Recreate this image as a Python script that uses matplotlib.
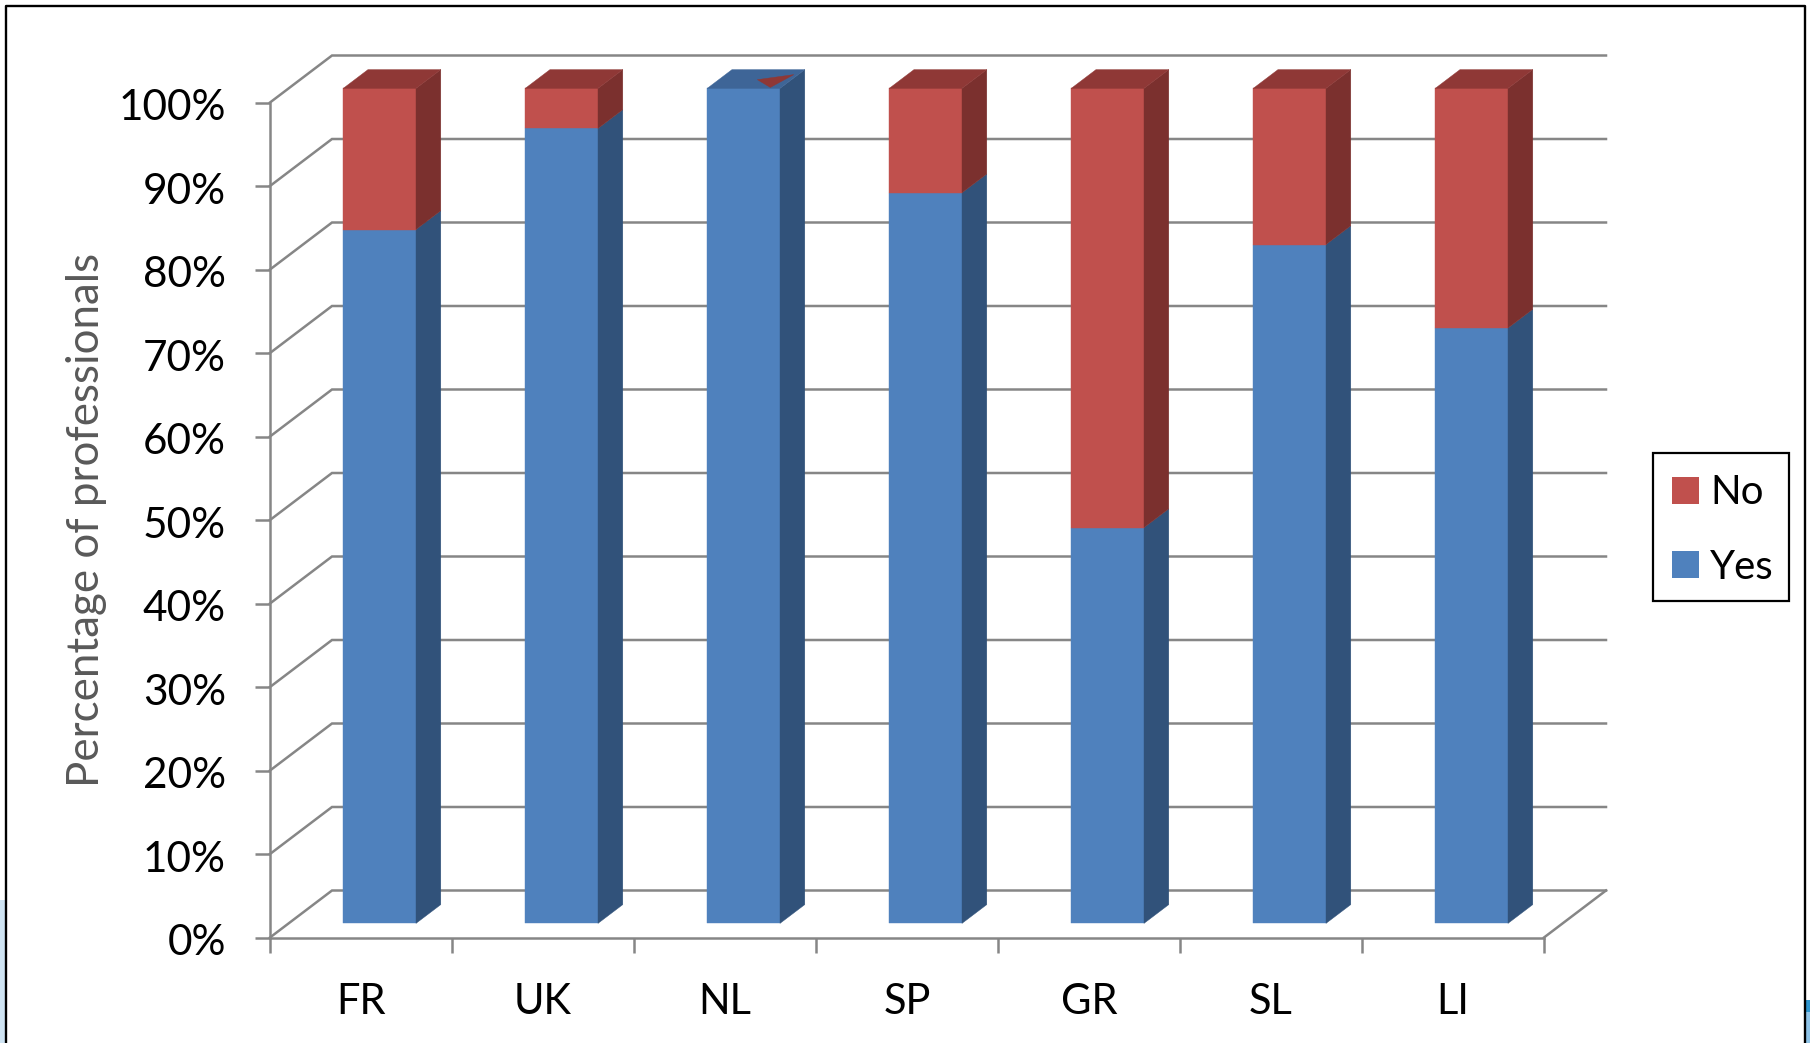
import matplotlib
matplotlib.use("Agg")
import matplotlib.pyplot as plt
from matplotlib.patches import Polygon, Patch, Rectangle
from matplotlib.transforms import ScaledTranslation

categories = ["FR", "UK", "NL", "SP", "GR", "SL", "LI"]
yes_values = [83.1, 95.2, 100.0, 87.5, 47.4, 81.3, 71.3]
no_values = [16.9, 4.8, 0.0, 12.5, 52.6, 18.7, 28.7]
y_ticks = list(range(0, 101, 10))
y_tick_labels = [f"{v}%" for v in y_ticks]
# small red sliver visible on NL's top face (fractions of the face: along width, along depth)
sliver_index = 2
sliver_uv = [(0.53, 0.465), (0.94, 0.733), (0.85, 0.05)]

W, H = 1810, 1043
BLUE = ("#4F81BD", "#31527A", "#3E6597")
RED = ("#C0504D", "#7B302E", "#8F3836")
GRID = "#868686"
plt.rcParams["font.family"] = ["Lato", "DejaVu Sans"]

fig = plt.figure(figsize=(W / 100, H / 100), dpi=100, facecolor="white")
ax = fig.add_axes([270 / W, 1 - 937.5 / H, (1544 - 270) / W, (937.5 - 102.5) / H])
ax.set_xlim(0, 7)
ax.set_ylim(0, 100)
ax.patch.set_alpha(0)

# oblique depth in data units
DX = 62 / 182
DY = 47 / 8.35
BAR_L, BAR_W = 0.3, 0.4
D0, D1 = 0.3, 0.7


def P(x, y, d):
    return (x + d * DX, y + d * DY)


lw = 1.8
for v in y_ticks:
    ax.plot(*zip(P(0, v, 0), P(0, v, 1), P(7, v, 1)), color=GRID, lw=lw, clip_on=False, zorder=1,
            solid_joinstyle="miter")
ax.plot(*zip(P(7, 0, 0), P(7, 0, 1)), color=GRID, lw=lw, clip_on=False, zorder=1)


def box(ax, x, y0, y1, cols, top, z):
    xl, xr = x + BAR_L, x + BAR_L + BAR_W
    ax.add_patch(Polygon([P(xl, y0, D0), P(xr, y0, D0), P(xr, y1, D0), P(xl, y1, D0)],
                         fc=cols[0], ec=cols[0], lw=0.3, clip_on=False, zorder=z))
    ax.add_patch(Polygon([P(xr, y0, D0), P(xr, y0, D1), P(xr, y1, D1), P(xr, y1, D0)],
                         fc=cols[1], ec=cols[1], lw=0.3, clip_on=False, zorder=z))
    if top:
        ax.add_patch(Polygon([P(xl, y1, D0), P(xr, y1, D0), P(xr, y1, D1), P(xl, y1, D1)],
                             fc=cols[2], ec=cols[2], lw=0.3, clip_on=False, zorder=z))


for i, (yv, nv) in enumerate(zip(yes_values, no_values)):
    box(ax, i, 0, yv, BLUE, nv == 0, 3)
    if nv > 0:
        box(ax, i, yv, yv + nv, RED, True, 4)

# NL sliver
xl = sliver_index + BAR_L
ax.add_patch(Polygon([P(xl + u * BAR_W, 100, D0 + w * (D1 - D0)) for u, w in sliver_uv],
                     fc=RED[2], ec=RED[2], lw=0.3, clip_on=False, zorder=5))

# axes
for s in ("top", "right"):
    ax.spines[s].set_visible(False)
for s in ("left", "bottom"):
    ax.spines[s].set_color(GRID)
    ax.spines[s].set_linewidth(lw)
    ax.spines[s].set_zorder(2)
ax.set_yticks(y_ticks, y_tick_labels)
ax.set_xticks(range(8))
ax.set_xticklabels([])
ax.set_xticks([i + 0.5 for i in range(7)], categories, minor=True)
ax.tick_params(axis="y", length=10.8, width=lw, color=GRID, pad=21, labelsize=30.5, labelcolor="black")
ax.tick_params(axis="x", which="major", length=10.8, width=lw, color=GRID)
ax.tick_params(axis="x", which="minor", length=0, pad=33, labelsize=30, labelcolor="black")
shift = ScaledTranslation(0, -2.2 / 100, fig.dpi_scale_trans)
for lab in ax.get_yticklabels():
    lab.set_transform(lab.get_transform() + shift)
ax.set_ylabel("Percentage of professionals", fontsize=31.6, color="#595959")
ax.yaxis.set_label_coords(107 / W, 1 - 520 / H, transform=fig.transFigure)

# legend: frame drawn separately so that the entries can sit slightly low in it
fig.add_artist(Rectangle((1653 / W, 1 - 601 / H), 136 / W, 148 / H, transform=fig.transFigure,
                         fc="white", ec="black", lw=1.6))
handles = [Patch(fc=RED[0], ec="none", label="No"), Patch(fc=BLUE[0], ec="none", label="Yes")]
leg = fig.legend(handles=handles, loc="center", bbox_to_anchor=(1723 / W, 1 - 530 / H), frameon=False,
                 fontsize=29, handlelength=0.67, handleheight=0.67, handletextpad=0.28,
                 labelspacing=0.92, borderpad=0.45, borderaxespad=0)

# outer frame and the slivers of slide background at the edges
fig.add_artist(Rectangle((0, 0), 4.5 / W, 143 / H, transform=fig.transFigure, fc="#CFE4F3", ec="none"))
fig.add_artist(Rectangle((1806 / W, 0), 4 / W, 31 / H, transform=fig.transFigure, fc="#8FC4E8", ec="none"))
fig.add_artist(Rectangle((1806 / W, 31 / H), 4 / W, 12 / H, transform=fig.transFigure, fc="#2F96CF", ec="none"))
frame_x = [5.5 / W, 5.5 / W, 1805 / W, 1805 / W]
frame_y = [0, 1 - 5.5 / H, 1 - 5.5 / H, 0]
fig.add_artist(plt.Line2D(frame_x, frame_y, transform=fig.transFigure, color="black", lw=1.7))

fig.savefig("out.png", dpi=100)
